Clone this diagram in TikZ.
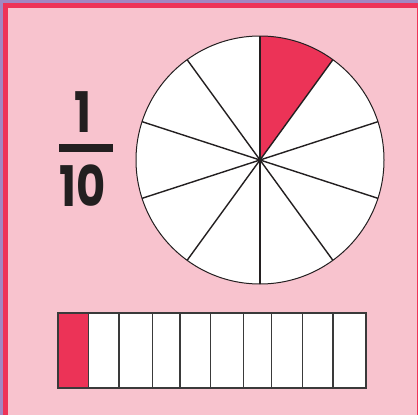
\documentclass[tikz,border=0pt]{standalone}
\usepackage{fontspec}
\newfontfamily\figfont{Poppins}
\definecolor{bgpink}{HTML}{F8C3CE}
\definecolor{framered}{HTML}{EE3358}
\definecolor{framepurple}{HTML}{A287C2}
\definecolor{fillred}{HTML}{EC3357}
\definecolor{ink}{HTML}{231F20}
\definecolor{barline}{HTML}{3A3A3A}
\tikzset{
  sector/.style={fill=white, draw=ink, line width=1pt},
  spoke/.style={draw=ink, line width=1.4pt},
  cell/.style={fill=white, draw=barline, line width=1.3pt},
  bigfig/.style={text=ink, inner sep=0pt, anchor=base, font=\fontsize{56}{56}\selectfont\figfont\bfseries}
}
\begin{document}
\begin{tikzpicture}[x=1pt,y=-1pt]
\useasboundingbox (0,0) rectangle (418,415);
% frame
\fill[framepurple] (0,0) rectangle (418,415);
\fill[framered] (3,3) rectangle (418,415);
\fill[bgpink] (8,8) rectangle (416.5,415);
% circle
\coordinate (c) at (260,160);
\fill[white] (c) circle (124);
\fill[fillred] (c) -- ({260+124*cos(90)},{160-124*sin(90)}) arc[start angle=-90, end angle=-54, radius=124] -- cycle;
\draw[ink, line width=1pt] (c) circle (124);
\foreach \a in {90,54,18,-18,-54,-90,-126,-162,162,126}{
  \draw[spoke] (c) -- ({260+124*cos(\a)},{160-124*sin(\a)});
}
\fill[ink] (c) circle (2);
% fraction
\node[bigfig, xscale=0.8] (num) at (83,132) {1};
\fill[ink] (59,144) rectangle (113,152);
\node[bigfig, xscale=0.8] (den) at (83,206) {10};
% bar
\fill[fillred] (58,313) rectangle (88.3,388);
\foreach \l/\r in {88.3/119,119/152.3,152.3/180,180/210.7,210.7/243.7,243.7/271.7,271.7/302.3,302.3/333,333/366}{
  \draw[cell] (\l,313) rectangle (\r,388);
}
\draw[barline, line width=1.3pt] (58,313) rectangle (88.3,388);
\end{tikzpicture}
\end{document}
